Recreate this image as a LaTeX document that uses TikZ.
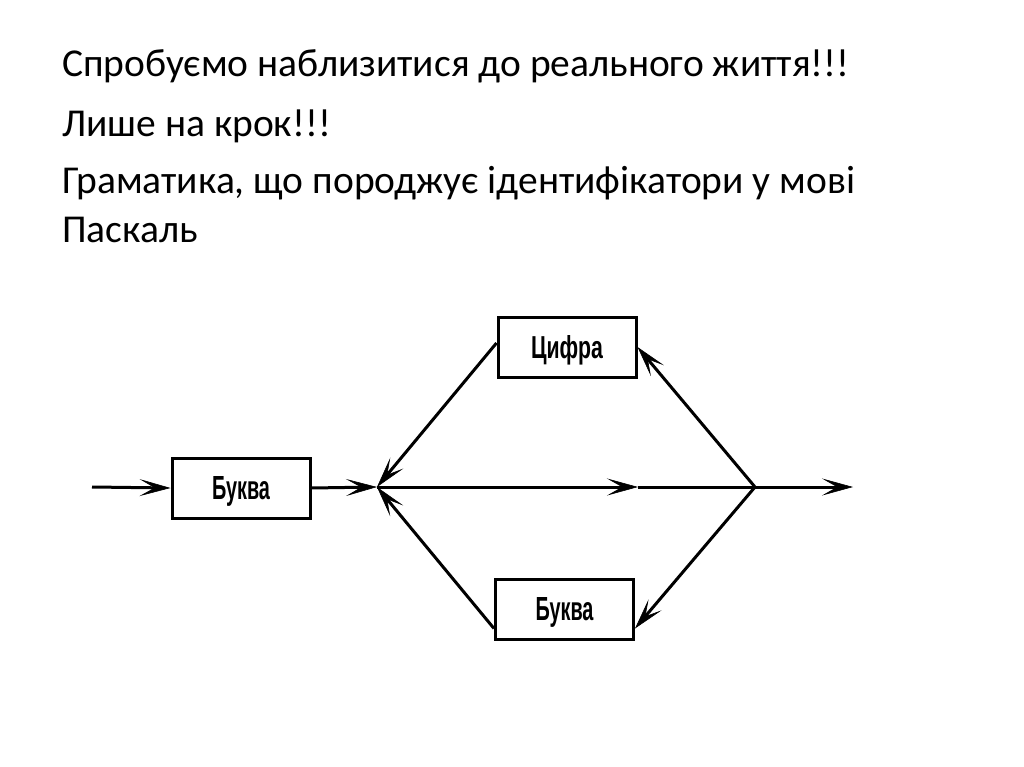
\documentclass[tikz,border=0pt]{standalone}
\usepackage{fontspec}
\usepackage{graphicx}
\setmainfont{Carlito}
\newfontfamily\boxfont{Liberation Sans}
\usetikzlibrary{arrows.meta}
\tikzset{
  ln/.style={line width=3pt, black},
  arr/.style={-{Stealth[length=31pt,width=17pt,inset=15pt,line width=0.6pt]}},
  bx/.style={draw, line width=3pt, minimum width=138pt, minimum height=60pt, inner sep=0pt, text height=23pt, text depth=0pt, font=\boxfont\bfseries\fontsize{32pt}{37pt}\selectfont},
  txt/.style={anchor=base west, inner sep=0pt, font=\fontsize{39.5pt}{45pt}\selectfont}
}
\newcommand{\nar}[2]{\resizebox{#1}{23pt}{#2}}
\begin{document}
\begin{tikzpicture}[x=1pt,y=-1pt]
\useasboundingbox (0,0) rectangle (1024,767);
\node[txt] (t1) at (62,77) {Спробуємо наблизитися до реального життя!!!};
\node[txt] (t2) at (62,137) {Лише на крок!!!};
\node[txt] (t3) at (62,194) {Граматика, що породжує ідентифікатори у мові};
\node[txt] (t4) at (62,242) {Паскаль};

\node[bx] (b1) at (241,488) {\nar{58pt}{Буква}};
\node[bx] (c) at (567,347) {\nar{72pt}{Цифра}};
\node[bx] (b2) at (564.5,609) {\nar{58pt}{Буква}};

\coordinate (s) at (92,487);
\coordinate (jl) at (377,487);
\coordinate (m) at (638,487);
\coordinate (jr) at (755,487);
\coordinate (e) at (853,487);

\draw[ln,arr] (s) -- (b1.west);
\draw[ln,arr] (b1.east) -- (jl);
\draw[ln,arr] (jl) -- (m);
\draw[ln] (m) -- (jr);
\draw[ln,arr] (jr) -- (e);
\draw[ln,arr] ([yshift=4pt]c.west) -- (jl);
\draw[ln,arr] (jr) -- (c.east);
\draw[ln,arr] ([yshift=12pt]b2.south west) -- (jl);
\draw[ln,arr] (jr) -- ([yshift=12pt]b2.south east);
\end{tikzpicture}
\end{document}
